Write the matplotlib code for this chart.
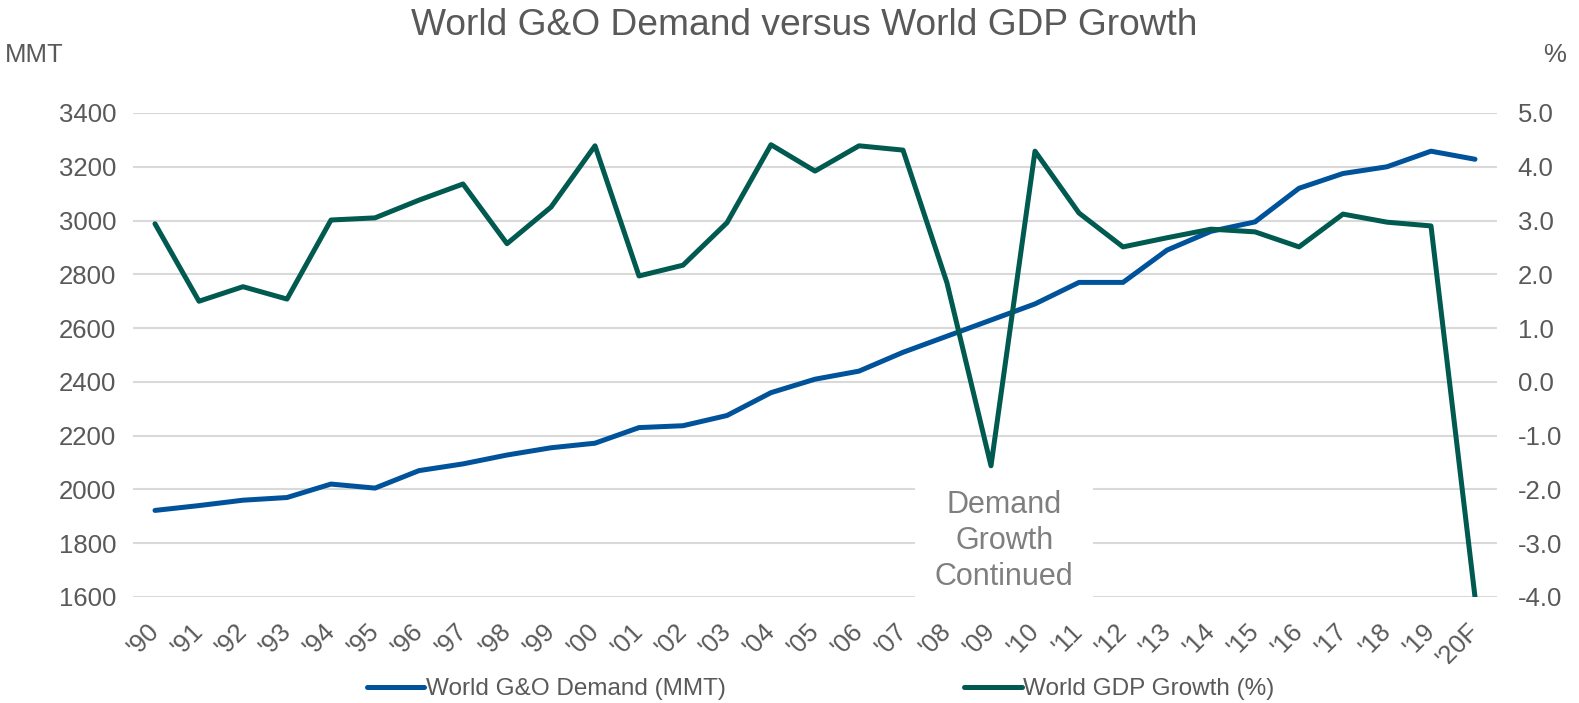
import matplotlib.pyplot as plt
from matplotlib.transforms import ScaledTranslation

plt.rcParams['font.family'] = ['Liberation Sans', 'DejaVu Sans']
plt.rcParams['axes.unicode_minus'] = False

# Daten
jahre = ["'90", "'91", "'92", "'93", "'94", "'95", "'96", "'97", "'98", "'99",
         "'00", "'01", "'02", "'03", "'04", "'05", "'06", "'07", "'08", "'09",
         "'10", "'11", "'12", "'13", "'14", "'15", "'16", "'17", "'18", "'19",
         "'20F"]
nachfrage = [1922, 1940, 1960, 1970, 2020, 2005, 2070, 2095, 2128, 2155,
             2172, 2230, 2237, 2275, 2360, 2410, 2440, 2510, 2570, 2630,
             2690, 2770, 2770, 2890, 2960, 2995, 3120, 3175, 3200, 3258,
             3228]
bip_wachstum = [2.94, 1.50, 1.77, 1.54, 3.01, 3.05, 3.38, 3.68, 2.57, 3.25,
                4.39, 1.97, 2.17, 2.96, 4.41, 3.92, 4.39, 4.31, 1.84, -1.56,
                4.29, 3.14, 2.51, 2.68, 2.84, 2.79, 2.51, 3.12, 2.97, 2.90,
                -4.0]
links_ticks = [1600, 1800, 2000, 2200, 2400, 2600, 2800, 3000, 3200, 3400]
rechts_ticks = [-4.0, -3.0, -2.0, -1.0, 0.0, 1.0, 2.0, 3.0, 4.0, 5.0]

grau = '#595959'
blau = '#00539B'
gruen = '#005A50'

fig = plt.figure(figsize=(15.79, 7.03), dpi=100)
ax = fig.add_axes([133 / 1579, 1 - 597 / 703, (1497 - 133) / 1579, (597 - 113) / 703])
ax2 = ax.twinx()

x = list(range(len(jahre)))
ax.set_axisbelow(True)
ax.grid(axis='y', color='#d9d9d9', linewidth=1.5)
l1, = ax.plot(x, nachfrage, color=blau, linewidth=3.6, zorder=3,
              solid_capstyle='round', label='World G&O Demand (MMT)')
l2, = ax2.plot(x, bip_wachstum, color=gruen, linewidth=3.6, zorder=3,
               solid_capstyle='round', label='World GDP Growth (%)')

ax.set_xlim(-0.5, len(jahre) - 0.5)
ax.set_ylim(1600, 3400)
ax2.set_ylim(-4, 5)
ax.set_yticks(links_ticks)
ax2.set_yticks(rechts_ticks)
ax2.set_yticklabels([f'{v:.1f}' for v in rechts_ticks])
ax.set_xticks(x)
ax.set_xticklabels(jahre, rotation=45, ha='right', va='center',
                   rotation_mode='anchor')
# Beschriftungen etwas nach rechts schieben
versatz = ScaledTranslation(6 / 100, 0, fig.dpi_scale_trans)
for lab in ax.get_xticklabels():
    lab.set_transform(lab.get_transform() + versatz)

for a in (ax, ax2):
    for s in a.spines.values():
        s.set_visible(False)
ax.tick_params(axis='y', length=0, labelsize=18.5, labelcolor=grau, pad=12)
ax.tick_params(axis='x', length=0, labelsize=18.5, labelcolor=grau, pad=22)
ax2.tick_params(axis='y', length=0, labelsize=18.5, labelcolor=grau, pad=15)

ax.text(19.3, 1808, 'Demand\nGrowth\nContinued', ha='center', va='center',
        fontsize=22, color='#7f7f7f', linespacing=1.25, zorder=1,
        bbox=dict(boxstyle='square,pad=0.65', fc='white', ec='none'))

fig.text(804 / 1579, 1 - 35 / 703, 'World G&O Demand versus World GDP Growth',
         ha='center', va='baseline', fontsize=26.7, color=grau)
fig.text(5 / 1579, 1 - 62 / 703, 'MMT', ha='left', va='baseline',
         fontsize=18.5, color=grau)
fig.text(1566 / 1579, 1 - 62 / 703, '%', ha='right', va='baseline',
         fontsize=18.5, color=grau)

fig.legend(handles=[l1, l2], loc='center', bbox_to_anchor=(821 / 1579, 1 - 689 / 703),
           ncol=2, frameon=False, fontsize=17.5, labelcolor=grau,
           handlelength=2.35, handletextpad=0.08, columnspacing=9.8,
           borderpad=0, borderaxespad=0)

fig.savefig('out.png', dpi=100)
